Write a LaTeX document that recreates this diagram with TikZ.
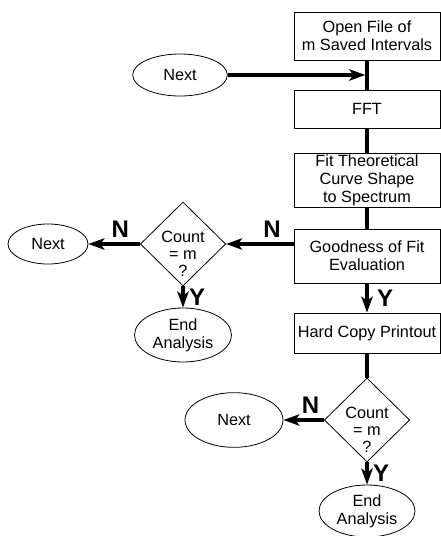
\documentclass[tikz,border=0pt]{standalone}
\usepackage{fontspec}
\setmainfont{Liberation Sans}
\usetikzlibrary{arrows.meta,shapes}

\newcommand{\countq}{\raisebox{-12pt}[0pt][0pt]{\begin{tabular}{@{}c@{}}Count\\= m\\?\end{tabular}}}

\begin{document}
\begin{tikzpicture}[x=0.75pt,y=-0.75pt,
    >={Stealth[length=12pt,width=8.5pt,inset=3pt]},
    every node/.style={font=\fontsize{12.2}{13.5}\selectfont, align=center},
    stepbox/.style={draw, line width=0.6pt, minimum width=109.5pt, inner sep=0pt},
    oval/.style={draw, ellipse, line width=0.6pt, inner sep=0pt},
    test/.style={draw, diamond, line width=0.6pt, inner sep=0pt, minimum width=64pt, minimum height=63pt,
        font=\fontsize{12.2}{12.75}\selectfont},
    link/.style={line width=2.6pt},
    flow/.style={line width=2.6pt, ->},
    yn/.style={font=\fontsize{18}{18}\selectfont\bfseries}]
\useasboundingbox (0,0) rectangle (441,536);
\node [stepbox, minimum height=36pt] (open) at (367,36) {Open File of\\m Saved Intervals};
\node [stepbox, minimum height=28.5pt] (fft) at (367,109) {FFT};
\node [stepbox, minimum height=40.5pt] (fit) at (367,180) {Fit Theoretical\\Curve Shape\\to Spectrum};
\node [stepbox, minimum height=40.5pt] (good) at (367,256) {Goodness of Fit\\Evaluation};
\node [stepbox, minimum height=30pt] (hard) at (367,333) {Hard Copy Printout};
\node [oval, minimum width=71pt, minimum height=31.5pt] (next1) at (180,75) {Next};
\node [test] (count1) at (183,244) {\countq};
\node [oval, minimum width=60pt, minimum height=30pt] (next2) at (48,244) {Next};
\node [oval, minimum width=72.75pt, minimum height=40.5pt] (end1) at (183,335) {End\\Analysis};
\node [test] (count2) at (367,420) {\countq};
\node [oval, minimum width=73.5pt, minimum height=41pt] (next3) at (234,420) {Next};
\node [oval, minimum width=72pt, minimum height=39pt] (end2) at (367,511) {End\\Analysis};
\coordinate (join) at (367,75);
\draw [link] (open) -- (fft);
\draw [flow, shorten >=1.3pt] (next1) -- (join);
\draw [link] (fft) -- (fit);
\draw [link] (fit) -- (good);
\draw [flow] (count1 -| good.west) -- node [yn, above, pos=.32] (nA) {N} (count1);
\draw [flow] (count1) -- node [yn, above, pos=.38] (nB) {N} (next2);
\draw [flow] (count1) -- node [yn, right] (yA) {Y} (end1);
\draw [flow] (good) -- node [yn, right, xshift=3pt] (yB) {Y} (hard);
\draw [link] (hard) -- (count2);
\draw [flow] (count2) -- node [yn, above, pos=.33] (nC) {N} (next3);
\draw [flow] (count2) -- node [yn, right] (yC) {Y} (end2);
\end{tikzpicture}
\end{document}
